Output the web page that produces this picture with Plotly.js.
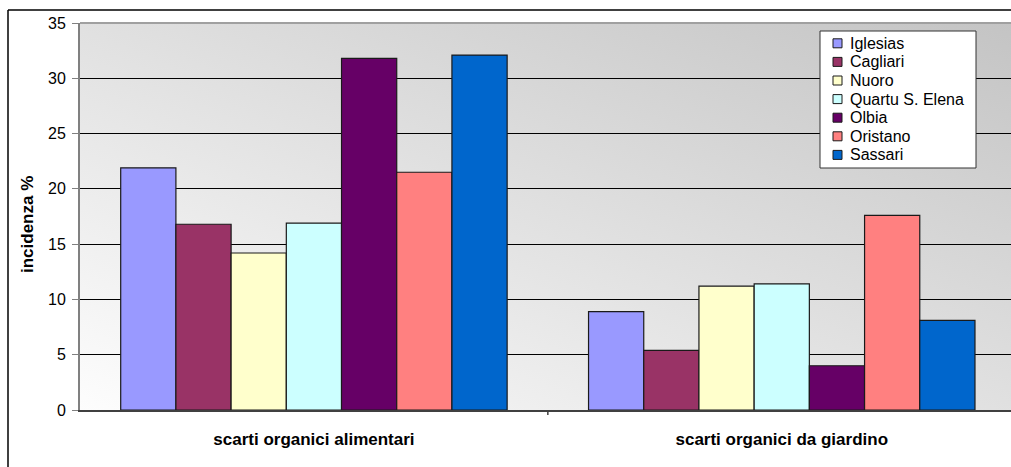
<!DOCTYPE html>
<html>
<head>
<meta charset="utf-8">
<script src="https://cdn.plot.ly/plotly-3.0.1.min.js"></script>
<style>
html,body{margin:0;padding:0;background:#fff;}
#chart{width:1011px;height:467px;}
</style>
</head>
<body>
<div id="chart"></div>
<script>
const categories = ["scarti organici alimentari", "scarti organici da giardino"];
const cities = ["Iglesias", "Cagliari", "Nuoro", "Quartu S. Elena", "Olbia", "Oristano", "Sassari"];
const iglesias = [21.9, 8.9];
const cagliari = [16.8, 5.4];
const nuoro = [14.2, 11.2];
const quartu = [16.9, 11.4];
const olbia = [31.8, 4.0];
const oristano = [21.5, 17.6];
const sassari = [32.1, 8.1];
const seriesValues = [iglesias, cagliari, nuoro, quartu, olbia, oristano, sassari];
const colors = ["#9999FF", "#993366", "#FFFFCC", "#CCFFFF", "#660066", "#FF8080", "#0066CC"];
const yTicks = [0, 5, 10, 15, 20, 25, 30, 35];
const yTitle = "incidenza %";

const FONT = "Liberation Sans, Arial, sans-serif";
const M = {l: 80, r: 0, t: 23, b: 57};
const W = 1011, H = 467;
const PW = W - M.l - M.r, PH = H - M.t - M.b;
const px = x => (x - M.l) / PW;          // pixel -> paper x
const py = y => (H - M.b - y) / PH;      // pixel -> paper y

const traces = cities.map((name, i) => ({
  type: "bar",
  name: name,
  x: categories,
  y: seriesValues[i],
  marker: {color: colors[i], line: {color: "#1a1a1a", width: 1.2}},
  hoverinfo: "x+y+name",
  showlegend: false
}));

const gradSvg = '<svg xmlns="http://www.w3.org/2000/svg" width="100" height="100" preserveAspectRatio="none">' +
  '<defs><linearGradient id="g" x1="0" y1="1" x2="1" y2="0">' +
  '<stop offset="0" stop-color="#fdfdfd"/><stop offset="1" stop-color="#c4c4c4"/>' +
  '</linearGradient></defs><rect width="100" height="100" fill="url(#g)"/></svg>';
const gradUri = "data:image/svg+xml;base64," + btoa(gradSvg);

const shapes = [
  {type: "line", xref: "paper", yref: "paper", x0: 0, x1: 1.01, y0: 1, y1: 1,
   line: {color: "#a0a0a0", width: 2}},
  {type: "line", xref: "paper", yref: "paper", x0: px(8), x1: 1.01, y0: py(10), y1: py(10),
   line: {color: "#000000", width: 1.5}},
  {type: "line", xref: "paper", yref: "paper", x0: px(8), x1: px(8), y0: -0.2, y1: py(10),
   line: {color: "#000000", width: 1.5}},
  {type: "line", xref: "x", yref: "paper", x0: 0.5, x1: 0.5, y0: 0, y1: py(415),
   line: {color: "#404040", width: 1.5}},
  {type: "rect", xref: "paper", yref: "paper", x0: px(820), x1: px(976), y0: py(168), y1: py(31),
   fillcolor: "#ffffff", line: {color: "#333333", width: 1}}
];
const annotations = [{
  xref: "paper", yref: "paper", x: px(27), y: py(225), textangle: -90,
  xanchor: "center", yanchor: "middle", showarrow: false, text: yTitle,
  font: {size: 17, family: FONT, weight: "bold", color: "#000"}
}];
const legTop = 43.3, legStep = 18.6;
cities.forEach((name, i) => {
  const cy = legTop + i * legStep;
  shapes.push({type: "rect", xref: "paper", yref: "paper",
    x0: px(833), x1: px(842), y0: py(cy + 4.5), y1: py(cy - 4.5),
    fillcolor: colors[i], line: {color: "#1a1a1a", width: 1}});
  annotations.push({xref: "paper", yref: "paper", x: px(848), y: py(cy),
    xanchor: "left", yanchor: "middle", showarrow: false, text: name,
    font: {size: 16, family: FONT, color: "#000"}});
});

const layout = {
  width: W,
  height: H,
  margin: M,
  paper_bgcolor: "#ffffff",
  plot_bgcolor: "rgba(0,0,0,0)",
  font: {family: FONT, color: "#000"},
  barmode: "group",
  bargap: 0.174,
  bargroupgap: 0,
  showlegend: false,
  xaxis: {
    type: "category",
    range: [-0.5, 1.49],
    showgrid: false,
    showline: true, linecolor: "#404040", linewidth: 2,
    ticks: "",
    tickfont: {size: 17, family: FONT, weight: "bold"},
    ticklabelstandoff: 13,
    zeroline: false,
    fixedrange: true
  },
  yaxis: {
    range: [0, 35],
    tickvals: yTicks,
    ticktext: yTicks.map(String),
    showgrid: true, gridcolor: "#000000", gridwidth: 1,
    showline: true, linecolor: "#808080", linewidth: 2,
    ticks: "outside", ticklen: 6, tickcolor: "#808080",
    tickfont: {size: 16, family: FONT},
    ticklabelstandoff: 3,
    zeroline: false,
    fixedrange: true
  },
  images: [{
    source: gradUri, xref: "paper", yref: "paper",
    x: 0, y: 1, sizex: 1, sizey: 1, sizing: "stretch",
    xanchor: "left", yanchor: "top", layer: "below"
  }],
  shapes: shapes,
  annotations: annotations
};

Plotly.newPlot("chart", traces, layout, {displayModeBar: false, staticPlot: true});
</script>
</body>
</html>
